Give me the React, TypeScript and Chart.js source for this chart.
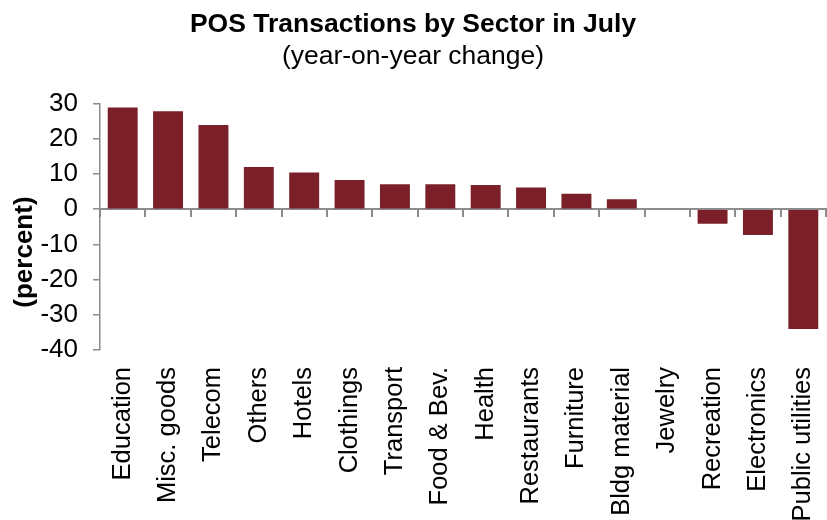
import React, { useEffect, useRef } from "react";
import { Chart, registerables } from "chart.js";

Chart.register(...registerables);

const categories = [
  "Education",
  "Misc. goods",
  "Telecom",
  "Others",
  "Hotels",
  "Clothings",
  "Transport",
  "Food & Bev.",
  "Health",
  "Restaurants",
  "Furniture",
  "Bldg material",
  "Jewelry",
  "Recreation",
  "Electronics",
  "Public utilities",
];

const yoyChange = [28.9, 27.8, 23.9, 12.0, 10.4, 8.3, 7.1, 7.1, 6.9, 6.2, 4.4, 2.8, 0, -4.1, -7.3, -34.0];

const yTicks = [-40, -30, -20, -10, 0, 10, 20, 30];

const FONT = "'Liberation Sans', Arial, sans-serif";
const BAR_COLOR = "#7b2029";
const AXIS_COLOR = "#8c8c8c";

export default function App() {
  const canvasRef = useRef<HTMLCanvasElement | null>(null);

  useEffect(() => {
    if (!canvasRef.current) return;
    const chart = new Chart(canvasRef.current, {
      type: "bar",
      data: {
        labels: categories,
        datasets: [
          {
            data: yoyChange,
            backgroundColor: BAR_COLOR,
            borderWidth: 0,
            barPercentage: 0.66,
            categoryPercentage: 1,
            xAxisID: "x",
            yAxisID: "y",
          },
        ],
      },
      options: {
        animation: false,
        responsive: false,
        maintainAspectRatio: false,
        layout: { padding: { left: 0, right: 1, top: 0, bottom: 0 } },
        plugins: {
          legend: { display: false },
          tooltip: { enabled: false },
          title: {
            display: true,
            text: "POS Transactions by Sector in July",
            color: "#000",
            font: { family: FONT, size: 26.5, weight: "bold", lineHeight: 1.1 },
            padding: { top: 10, bottom: 0 },
          },
          subtitle: {
            display: true,
            text: "(year-on-year change)",
            color: "#000",
            font: { family: FONT, size: 26.5, weight: "normal", lineHeight: 1.3 },
            padding: { top: 0, bottom: 30 },
          },
        },
        scales: {
          x: {
            type: "category",
            position: "bottom",
            offset: true,
            grid: { display: false, offset: true, drawTicks: false },
            border: { display: false },
            ticks: {
              color: "#000",
              font: { family: FONT, size: 25.5 },
              minRotation: 90,
              maxRotation: 90,
              autoSkip: false,
              padding: 17,
            },
            afterFit: (scale: any) => {
              scale.height = 170;
              scale.paddingLeft = 0;
              scale.paddingRight = 0;
            },
          },
          x0: {
            type: "category",
            position: { y: 0 },
            offset: true,
            grid: {
              display: true,
              offset: true,
              drawOnChartArea: false,
              drawTicks: true,
              tickLength: 7,
              color: AXIS_COLOR,
              lineWidth: 2,
            },
            border: { display: true, color: AXIS_COLOR, width: 2 },
            ticks: { display: false },
          },
          y: {
            type: "linear",
            min: -40,
            max: 30,
            afterBuildTicks: (scale: any) => {
              scale.ticks = yTicks.map((v) => ({ value: v }));
            },
            afterFit: (scale: any) => {
              scale.width = 100;
            },
            grid: {
              display: true,
              drawOnChartArea: false,
              drawTicks: true,
              tickLength: 7,
              color: AXIS_COLOR,
              lineWidth: 1.5,
            },
            border: { display: true, color: AXIS_COLOR, width: 1.5 },
            ticks: {
              color: "#000",
              font: { family: FONT, size: 26 },
              padding: 15,
            },
            title: {
              display: true,
              text: "(percent)       ",
              color: "#000",
              font: { family: FONT, size: 26, weight: "bold", lineHeight: 1.2 },
              padding: { top: 9, bottom: 2 },
            },
          },
        },
      },
    });
    return () => chart.destroy();
  }, []);

  return (
    <div style={{ position: "fixed", left: 0, top: 0, width: 827, height: 520, background: "#fff" }}>
      <canvas ref={canvasRef} width={827} height={520} style={{ display: "block", width: 827, height: 520 }} />
    </div>
  );
}
